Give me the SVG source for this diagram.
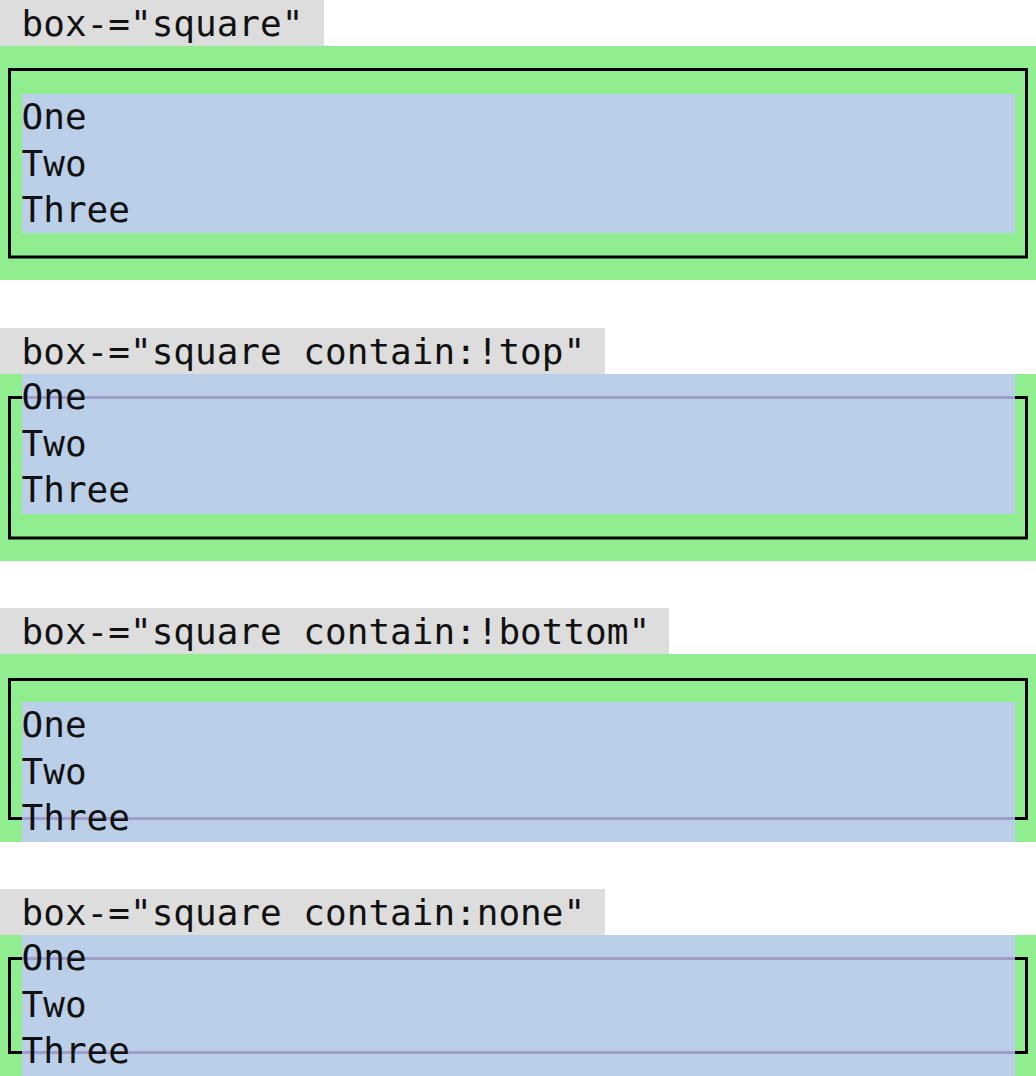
<svg xmlns="http://www.w3.org/2000/svg" width="1036" height="1076" viewBox="0 0 1036 1076">
<style>
.lbl{fill:#dddddd}
.grn{fill:#90ee90}
.blu{fill:#bccfe8}
.box{fill:none;stroke:#000;stroke-width:3}
.hid{stroke:#9e9ecb;stroke-width:3}
text{font-family:"DejaVu Sans Mono","Liberation Mono",monospace;font-size:36px;fill:#111}
</style>
<rect width="1036" height="1076" fill="#fff"/>
<g id="s1">
<rect class="lbl" x="0" y="0" width="324" height="46"/>
<text x="21.6" y="36">box-="square"</text>
<rect class="grn" x="0" y="46" width="1036" height="234"/>
<rect class="box" x="9.5" y="69.5" width="1017" height="187.5"/>
<rect class="blu" x="22" y="94" width="993" height="139"/>
<text x="21.6" y="129">One</text>
<text x="21.6" y="175.5">Two</text>
<text x="21.6" y="222">Three</text>
</g>
<g id="s2">
<rect class="lbl" x="0" y="328" width="605" height="46"/>
<text x="21.6" y="364">box-="square contain:!top"</text>
<rect class="grn" x="0" y="374" width="1036" height="187"/>
<rect class="box" x="9.5" y="397.5" width="1017" height="140.5"/>
<rect class="blu" x="22" y="374" width="993" height="140"/>
<line class="hid" x1="22" y1="397.5" x2="1015" y2="397.5"/>
<text x="21.6" y="409">One</text>
<text x="21.6" y="455.5">Two</text>
<text x="21.6" y="502">Three</text>
</g>
<g id="s3">
<rect class="lbl" x="0" y="608" width="669" height="46"/>
<text x="21.6" y="644">box-="square contain:!bottom"</text>
<rect class="grn" x="0" y="654" width="1036" height="188"/>
<rect class="box" x="9.5" y="679.5" width="1017" height="139"/>
<rect class="blu" x="22" y="702" width="993" height="140"/>
<line class="hid" x1="22" y1="818.5" x2="1015" y2="818.5"/>
<text x="21.6" y="737">One</text>
<text x="21.6" y="783.5">Two</text>
<text x="21.6" y="830">Three</text>
</g>
<g id="s4">
<rect class="lbl" x="0" y="889" width="605" height="46"/>
<text x="21.6" y="925">box-="square contain:none"</text>
<rect class="grn" x="0" y="935" width="1036" height="141"/>
<rect class="box" x="9.5" y="958.5" width="1017" height="94"/>
<rect class="blu" x="22" y="935" width="993" height="141"/>
<line class="hid" x1="22" y1="958.5" x2="1015" y2="958.5"/>
<line class="hid" x1="22" y1="1052.5" x2="1015" y2="1052.5"/>
<text x="21.6" y="970">One</text>
<text x="21.6" y="1016.5">Two</text>
<text x="21.6" y="1063">Three</text>
</g>
</svg>
